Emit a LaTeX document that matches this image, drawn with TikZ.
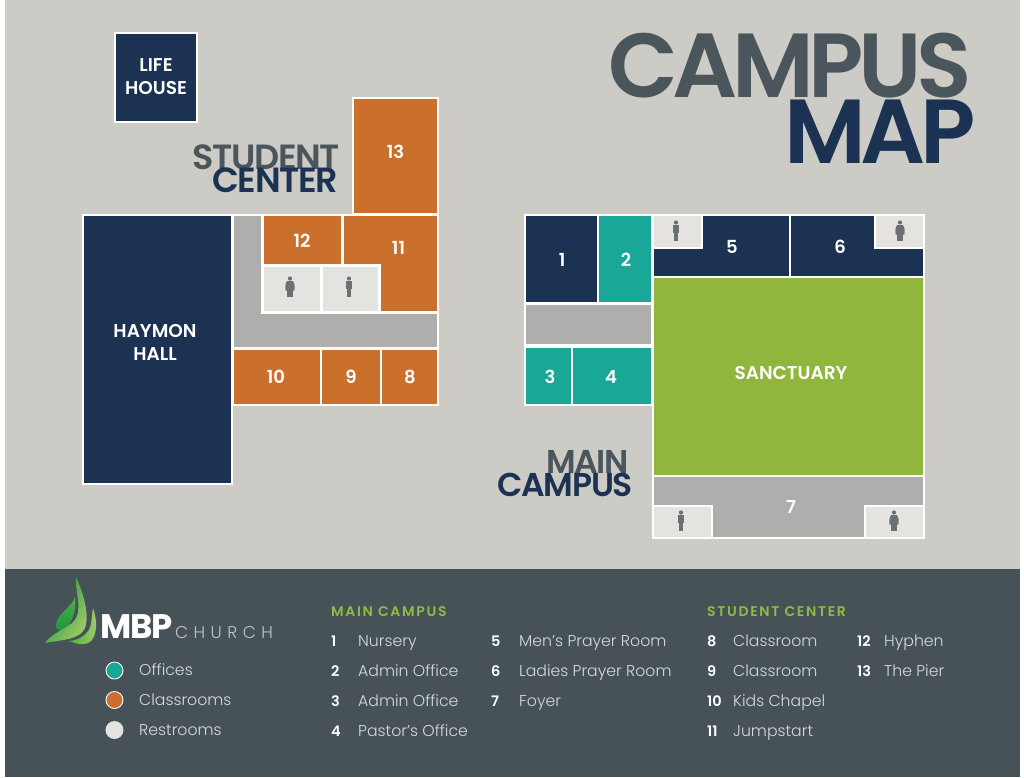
\documentclass[tikz,border=0pt]{standalone}
\usepackage{fontspec}
\setmainfont{Poppins}
\newfontfamily\body{Poppins Light}
\newfontfamily\heavy{Poppins SemiBold}
\newfontfamily\ttlfont{Poppins SemiBold}[LetterSpace=-6]
\newfontfamily\subfont{Poppins SemiBold}[LetterSpace=-4]
\newfontfamily\headfont{Poppins SemiBold}[LetterSpace=12]
\newfontfamily\logofont{Poppins Bold}[LetterSpace=-3]
\newfontfamily\churchfont{Poppins Light}[LetterSpace=32]
\definecolor{bgc}{HTML}{CCCBC6}
\definecolor{band}{HTML}{465158}
\definecolor{navy}{HTML}{1C3252}
\definecolor{slate}{HTML}{4A555C}
\definecolor{teal}{HTML}{19A898}
\definecolor{orng}{HTML}{CB702C}
\definecolor{rest}{HTML}{E4E3E0}
\definecolor{corr}{HTML}{AEAEAC}
\definecolor{sanc}{HTML}{91B63E}
\definecolor{lime}{HTML}{8FBC45}
\definecolor{icon}{HTML}{6B7075}
\definecolor{legtxt}{HTML}{D8DADA}
\definecolor{lfdark}{HTML}{1E9440}
\definecolor{lfmid}{HTML}{4FAE44}
\definecolor{lflight}{HTML}{A3CC68}
\tikzset{
  room/.style={draw=white,line width=2pt,line join=miter},
  navyroom/.style={room,fill=navy},
  tealroom/.style={room,fill=teal},
  orngroom/.style={room,fill=orng},
  restroom/.style={room,fill=rest},
  corrroom/.style={room,fill=corr},
  lab/.style={text=white,font=\heavy\fontsize{18}{18}\selectfont,inner sep=0pt},
  biglab/.style={text=white,font=\heavy\fontsize{18.5}{23}\selectfont,inner sep=0pt,align=center},
  leg/.style={text=legtxt,font=\body\fontsize{15.7}{15}\selectfont,anchor=base west,inner sep=0pt},
  legnum/.style={text=white,font=\heavy\fontsize{14.5}{14}\selectfont,anchor=base west,inner sep=0pt},
  leghead/.style={text=lime,font=\headfont\fontsize{14}{14}\selectfont,anchor=base west,inner sep=0pt},
  dot/.style={circle,draw=white,line width=0.9pt,minimum size=17pt,inner sep=0pt},
  subttl/.style={anchor=base east,inner sep=0pt,font=\subfont\fontsize{35}{35}\selectfont},
  subttlb/.style={anchor=base east,inner sep=0pt,font=\subfont\fontsize{33}{33}\selectfont},
  mainttl/.style={anchor=base east,inner sep=0pt,font=\ttlfont\fontsize{91}{91}\selectfont},
}
\newcommand{\man}[2]{\begin{scope}[shift={(#1,#2)}]
  \fill[icon] (0,-8.5) circle (2.1);
  \fill[icon] (-3.4,-5.8) rectangle (3.4,2.2);
  \fill[icon] (-2.4,2) rectangle (2.4,9.5);
\end{scope}}
\newcommand{\woman}[2]{\begin{scope}[shift={(#1,#2)}]
  \fill[icon] (0,-8.5) circle (2.1);
  \fill[icon] (-2.6,-6) -- (2.6,-6) .. controls (4.6,-5) and (5,0) .. (4.4,3.5) -- (-4.4,3.5) .. controls (-5,0) and (-4.6,-5) .. (-2.6,-6) -- cycle;
  \fill[icon] (-2.6,3) rectangle (2.6,9.5);
\end{scope}}
\begin{document}
\begin{tikzpicture}[x=1pt,y=-1pt]
\useasboundingbox (0,0) rectangle (1024,777);
\fill[white] (0,0) rectangle (1024,777);
\fill[bgc] (4.5,0) rectangle (1020,569);
\fill[band] (4.5,569) rectangle (1020,777);

% Title
\node[mainttl,text=slate] (ttl1) at (972,97) {CAMPUS};
\node[mainttl,text=navy] (ttl2) at (976,163) {MAP};

% Student centre
\draw[navyroom] (115,33) rectangle (197,122);
\node[biglab] (life) at (156,77) {LIFE\\HOUSE};
\draw[orngroom] (353,98) rectangle (438,214);
\node[lab] (n13) at (395.5,152) {13};
\node[subttl,text=slate] (sc1) at (340,169) {STUDENT};
\node[subttl,text=navy] (sc2) at (338,192) {CENTER};

\draw[navyroom] (83,215) rectangle (232,484);
\node[biglab] (hay) at (155,342) {HAYMON\\HALL};
\draw[corrroom] (233,215) -- (262,215) -- (262,313) -- (438,313) -- (438,348) -- (233,348) -- cycle;
\draw[orngroom] (263,215) rectangle (342,265);
\node[lab] (n12) at (302,241) {12};
\draw[orngroom] (343,215) -- (438,215) -- (438,312) -- (380,312) -- (380,265) -- (343,265) -- cycle;
\node[lab] (n11) at (398.5,248) {11};
\draw[restroom] (263,266) rectangle (321,312);
\draw[restroom] (322,266) rectangle (379,312);
\woman{290}{287}
\man{349}{287}
\draw[orngroom] (233,349) rectangle (321,405);
\draw[orngroom] (321,349) rectangle (381,405);
\draw[orngroom] (381,349) rectangle (438,405);
\node[lab] (n10) at (276,377) {10};
\node[lab] (n9) at (351,377) {9};
\node[lab] (n8) at (410,377) {8};

% Main campus
\draw[navyroom] (525,215) rectangle (598,303);
\draw[tealroom] (598,215) rectangle (652,303);
\draw[corrroom] (525,304) rectangle (652,345);
\draw[tealroom] (525,346.5) rectangle (572,405);
\draw[tealroom] (572,346.5) rectangle (652,405);
\node[lab] (n1) at (562,260) {1};
\node[lab] (n2) at (626,260) {2};
\node[lab] (n3) at (550,377) {3};
\node[lab] (n4) at (611,377) {4};

\draw[navyroom] (653,248) -- (702,248) -- (702,215) -- (790,215) -- (790,277) -- (653,277) -- cycle;
\draw[navyroom] (790,215) -- (875,215) -- (875,248) -- (924,248) -- (924,277) -- (790,277) -- cycle;
\draw[restroom] (653,215) rectangle (702,248);
\draw[restroom] (875,215) rectangle (924,248);
\man{676}{231}
\woman{900}{231}
\node[lab] (n5) at (732,246.5) {5};
\node[lab] (n6) at (840,246.5) {6};

\draw[room,fill=sanc] (653,277) rectangle (924,476);
\node[biglab] (sanct) at (791,373.5) {SANCTUARY};

\draw[corrroom] (653,476) -- (924,476) -- (924,537.5) -- (653,537.5) -- cycle;
\draw[restroom] (653,506) rectangle (712,537.5);
\draw[restroom] (865,506) rectangle (924,537.5);
\man{681}{521}
\woman{894}{521}
\node[lab] (n7) at (791,507) {7};

\node[subttlb,text=slate] (mc1) at (629,473) {MAIN};
\node[subttlb,text=navy] (mc2) at (633,496) {CAMPUS};

% Logo
\shade[bottom color=lfdark,top color=lfmid] (75,597) .. controls (72,607) and (58,613) .. (56,624) .. controls (55,630) and (60,632) .. (64,630) .. controls (71,625) and (77,612) .. (75,597) -- cycle;
\shade[left color=lfmid,right color=lflight] (93,608) .. controls (98,622) and (97,636) .. (90,642) .. controls (84,646) and (76,644) .. (69,641) .. controls (80,640) and (89,634) .. (91,624) .. controls (92,618) and (92,613) .. (93,608) -- cycle;
\shade[left color=lfdark,right color=lflight,shading angle=60] (76,577) .. controls (75,590) and (81,604) .. (77,616) .. controls (73,628) and (54,630) .. (45,643) .. controls (60,640) and (80,640) .. (85,628) .. controls (90,615) and (83,592) .. (76,577) -- cycle;

\node[anchor=base west,text=white,inner sep=0pt,font=\logofont\fontsize{34}{34}\selectfont] (mbp) at (100,638) {MBP};
\node[anchor=base west,text=legtxt!85!band,inner sep=0pt,font=\churchfont\fontsize{17}{17}\selectfont] (church) at (175,638) {CHURCH};

% Colour key
\node[dot,fill=teal] (d1) at (114.5,670.5) {};
\node[dot,fill=orng] (d2) at (114.5,700) {};
\node[dot,fill=rest,draw=rest] (d3) at (114.5,730) {};
\node[leg] (k1) at (139,675.5) {Offices};
\node[leg] (k2) at (139,705.5) {Classrooms};
\node[leg] (k3) at (139,735.5) {Restrooms};

% Lists
\node[leghead] (h1) at (331,616) {MAIN CAMPUS};
\node[leghead] (h2) at (707,616) {STUDENT CENTER};
\node[legnum] at (331,646) {1};  \node[leg] at (358,646.5) {Nursery};
\node[legnum] at (331,676) {2};  \node[leg] at (358,676.5) {Admin Office};
\node[legnum] at (331,706) {3};  \node[leg] at (358,706.5) {Admin Office};
\node[legnum] at (331,736) {4};  \node[leg] at (358,736.5) {Pastor’s Office};
\node[legnum] at (491,646) {5};  \node[leg] at (519,646.5) {Men’s Prayer Room};
\node[legnum] at (491,676) {6};  \node[leg] at (519,676.5) {Ladies Prayer Room};
\node[legnum] at (491,706) {7};  \node[leg] at (519,706.5) {Foyer};
\node[legnum] at (707,646) {8};  \node[leg] at (733,646.5) {Classroom};
\node[legnum] at (707,676) {9};  \node[leg] at (733,676.5) {Classroom};
\node[legnum] at (707,706) {10}; \node[leg] at (733,706.5) {Kids Chapel};
\node[legnum] at (707,736) {11}; \node[leg] at (733,736.5) {Jumpstart};
\node[legnum] at (857,646) {12}; \node[leg] at (884,646.5) {Hyphen};
\node[legnum] at (857,676) {13}; \node[leg] at (884,676.5) {The Pier};
\end{tikzpicture}
\end{document}
